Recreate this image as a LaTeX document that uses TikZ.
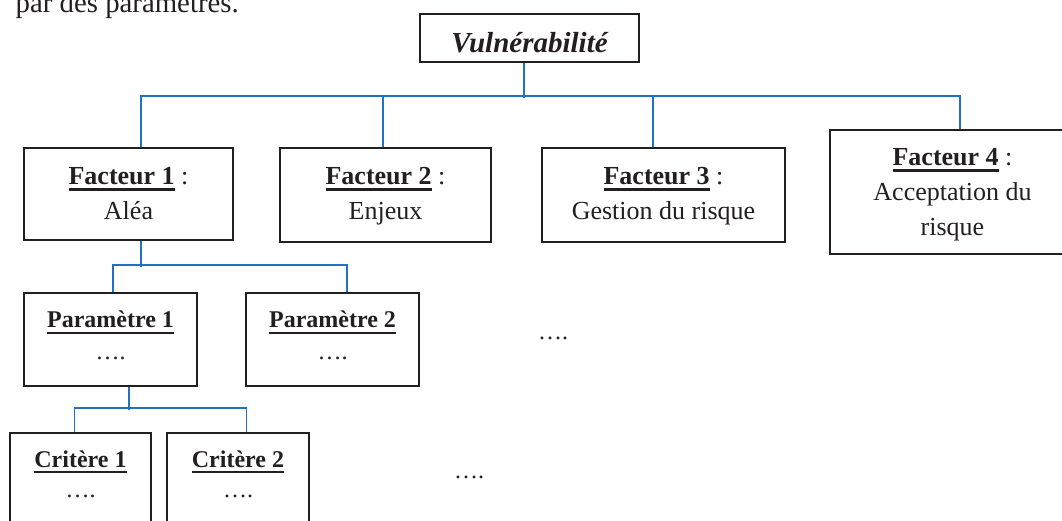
\documentclass[tikz,border=0pt]{standalone}
\usepackage{fontspec}
\setmainfont{Liberation Serif}
\definecolor{linkblue}{RGB}{32,114,196}
\definecolor{ink}{RGB}{35,31,32}
\newcommand{\myul}[1]{\setbox0\hbox{#1}\rlap{\rule[-.24em]{\wd0}{.09em}}\box0\relax}
\tikzset{
  boxn/.style={draw=ink, line width=1.8pt, inner sep=0pt, rectangle},
  conn/.style={draw=linkblue, line width=1.7pt},
  lbl/.style={text=ink, inner sep=0pt, align=center},
  fact/.style={lbl, font=\fontsize{26}{35}\selectfont},
  para/.style={lbl, font=\fontsize{24}{32}\selectfont},
  crit/.style={lbl, font=\fontsize{24}{30}\selectfont},
}
\begin{document}
\begin{tikzpicture}[x=1pt,y=-1pt]
\useasboundingbox (0,0) rectangle (1062,520);
\clip (0,0) rectangle (1062,520);
\fill[white] (0,0) rectangle (1062,520);

% intro text (cut at top)
\node[lbl, anchor=base west, font=\fontsize{28.8}{34}\selectfont] (intro) at (15.5,12) {par des paramètres.};

% boxes
\node[boxn, minimum width=219pt, minimum height=48pt] (vuln) at (529.5,38) {};
\node[boxn, minimum width=209pt, minimum height=92pt] (f1) at (128.5,194) {};
\node[boxn, minimum width=211pt, minimum height=94pt] (f2) at (385.5,195) {};
\node[boxn, minimum width=243pt, minimum height=94pt] (f3) at (663.5,195) {};
\node[boxn, minimum width=245pt, minimum height=124pt] (f4) at (952.5,192) {};
\node[boxn, minimum width=173pt, minimum height=93pt] (p1) at (110.5,339.5) {};
\node[boxn, minimum width=173pt, minimum height=93pt] (p2) at (332.5,339.5) {};
\node[boxn, minimum width=141pt, minimum height=97pt] (c1) at (80.5,481.5) {};
\node[boxn, minimum width=142pt, minimum height=97pt] (c2) at (238,481.5) {};

% texts
\node[lbl, anchor=base, font=\fontsize{29}{34}\selectfont\bfseries\itshape] (vulnt) at (529.5,52) {Vulnérabilité};
\node[fact] (f1t) at (128.5,195) {\strut\myul{\textbf{Facteur 1}} :\\Aléa\strut};
\node[fact] (f2t) at (385.5,195) {\strut\myul{\textbf{Facteur 2}} :\\Enjeux\strut};
\node[fact] (f3t) at (663.5,195) {\strut\myul{\textbf{Facteur 3}} :\\Gestion du risque\strut};
\node[fact] (f4t) at (952.5,193.5) {\strut\myul{\textbf{Facteur 4}} :\\Acceptation du\\risque\strut};
\node[para] (p1t) at (110.5,337.5) {\strut\myul{\textbf{Paramètre 1}}\\….\strut};
\node[para] (p2t) at (332.5,337.5) {\strut\myul{\textbf{Paramètre 2}}\\….\strut};
\node[crit] (c1t) at (80.5,476.5) {\strut\myul{\textbf{Critère 1}}\\….\strut};
\node[crit] (c2t) at (238,476.5) {\strut\myul{\textbf{Critère 2}}\\….\strut};
\node[lbl, anchor=base, font=\fontsize{24}{27}\selectfont] (dots1) at (553,339) {….};
\node[lbl, anchor=base, font=\fontsize{24}{27}\selectfont] (dots2) at (469,478) {….};

% connectors
\draw[conn] ([xshift=-5.5pt]vuln.south) -- ++(0,35);
\draw[conn] ([xshift=12.5pt]f1.north) -- ++(0,-51) -| ([xshift=7.5pt]f4.north);
\draw[conn] ([xshift=-2.5pt]f2.north) -- ++(0,-51);
\draw[conn] ([xshift=-10.5pt]f3.north) -- ++(0,-51);
\draw[conn] ([xshift=12.5pt]f1.south) -- ++(0,26);
\draw[conn] ([xshift=2.5pt]p1.north) -- ++(0,-27) -| ([xshift=14.5pt]p2.north);
\draw[conn] ([xshift=18.5pt]p1.south) -- ++(0,23);
\draw[conn] ([xshift=-6pt]c1.north) -- ++(0,-24) -| ([xshift=8.5pt]c2.north);
\end{tikzpicture}
\end{document}
